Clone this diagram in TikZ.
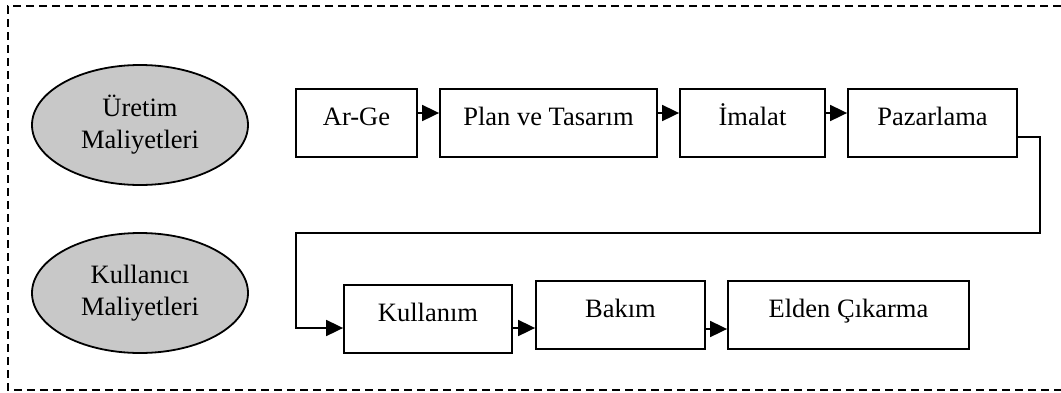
\documentclass[tikz,border=0pt]{standalone}
\usepackage{fontspec}
\setmainfont{Liberation Serif}
\usetikzlibrary{shapes.geometric,arrows.meta}
\definecolor{costgray}{HTML}{C8C8C8}
\begin{document}
\begin{tikzpicture}[x=1pt,y=-1pt,
  stagebox/.style={draw=black, line width=1.8pt, rectangle, inner sep=0pt,
    minimum height=68pt, text height=18pt, text depth=14pt,
    font=\fontsize{26.5}{32}\selectfont},
  costellipse/.style={draw=black, line width=1.8pt, ellipse, fill=costgray,
    minimum width=216pt, minimum height=120pt, inner sep=0pt, align=center,
    font=\fontsize{26.5}{32}\selectfont},
  flow/.style={line width=1.8pt, -{Triangle[length=17pt,width=16pt]}},
  frame/.style={line width=1.3pt, dash pattern=on 8pt off 5pt}]
  \useasboundingbox (0,0) rectangle (1061,392);
  % outer dashed frame, running off the right edge
  \coordinate (frameTR) at (1061,6);
  \coordinate (frameTL) at (8,6);
  \coordinate (frameBL) at (8,390);
  \coordinate (frameBR) at (1061,390);
  \draw[frame] (frameTR) -- (frameTL) -- (frameBL) -- (frameBR);

  % cost groups
  \node[costellipse] (uretim) at (140,125) {Üretim\\Maliyetleri};
  \node[costellipse] (kullanici) at (140,293) {Kullanıcı\\Maliyetleri};

  % production stages
  \node[stagebox, minimum width=121pt] (arge) at (356.5,123) {Ar-Ge};
  \node[stagebox, minimum width=217pt] (plan) at (548.5,123) {Plan ve Tasarım};
  \node[stagebox, minimum width=145pt] (imalat) at (752.5,123) {İmalat};
  \node[stagebox, minimum width=169pt] (pazar) at (932.5,123) {Pazarlama};

  % usage stages
  \node[stagebox, minimum width=168pt] (kullanim) at (428,319) {Kullanım};
  \node[stagebox, minimum width=169pt] (bakim) at (620.5,315) {Bakım};
  \node[stagebox, minimum width=241pt] (elden) at (848.5,315) {Elden Çıkarma};

  % connectors (yshift is in canvas units: positive moves up)
  \draw[flow] ([yshift=10pt]arge.east) -- ([yshift=10pt]plan.west);
  \draw[flow] ([yshift=10pt]plan.east) -- ([yshift=10pt]imalat.west);
  \draw[flow] ([yshift=10pt]imalat.east) -- ([yshift=10pt]pazar.west);
  \coordinate (turnA) at (1040,233);
  \coordinate (turnB) at (296,233);
  \draw[flow] ([yshift=-14pt]pazar.east) -| (turnA) -- (turnB)
    |- ([yshift=-9pt]kullanim.west);
  \draw[flow] ([yshift=-9pt]kullanim.east) -- ([yshift=-13pt]bakim.west);
  \draw[flow] ([yshift=-14pt]bakim.east) -- ([yshift=-14pt]elden.west);
\end{tikzpicture}
\end{document}
